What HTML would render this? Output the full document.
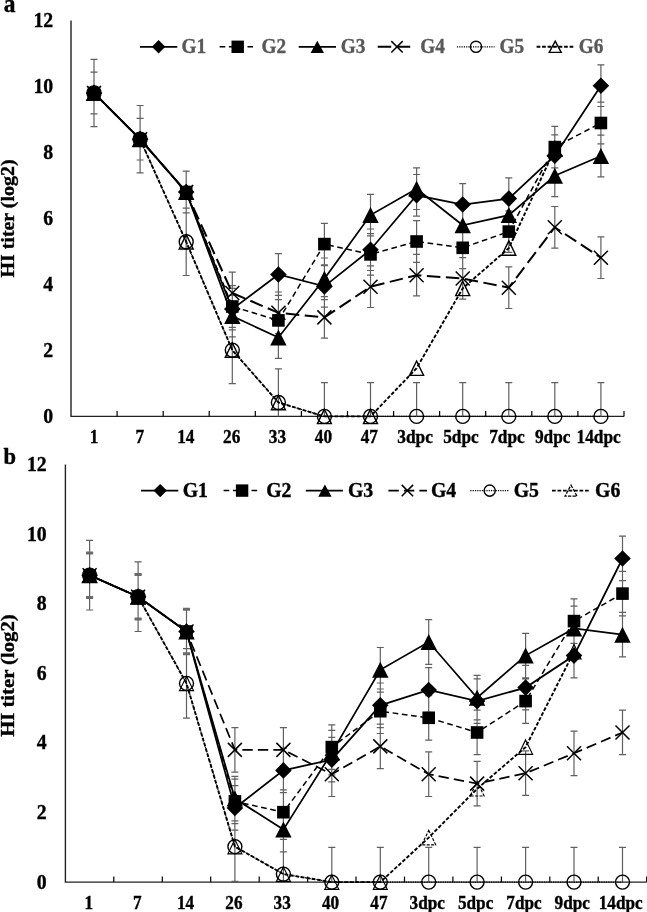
<!DOCTYPE html>
<html><head><meta charset="utf-8"><title>HI titer</title>
<style>
html,body{margin:0;padding:0;background:#fff;}
body{width:647px;height:912px;overflow:hidden;}
svg{display:block;}
svg text{font-family:"Liberation Serif",serif;font-weight:bold;fill:#000;stroke:#000;stroke-width:0.35px;}
</style></head><body>
<svg width="647" height="912" viewBox="0 0 647 912">
<rect width="647" height="912" fill="#fff"/>
<g id="chart-a">
<path d="M71.0 20.4V416.4H624.0" fill="none" stroke="#222" stroke-width="1.4"/>
<path d="M117.1 416.4v-5.5" stroke="#000" stroke-width="1.2"/>
<path d="M163.2 416.4v-5.5" stroke="#000" stroke-width="1.2"/>
<path d="M209.2 416.4v-5.5" stroke="#000" stroke-width="1.2"/>
<path d="M255.3 416.4v-5.5" stroke="#000" stroke-width="1.2"/>
<path d="M301.4 416.4v-5.5" stroke="#000" stroke-width="1.2"/>
<path d="M347.5 416.4v-5.5" stroke="#000" stroke-width="1.2"/>
<path d="M393.6 416.4v-5.5" stroke="#000" stroke-width="1.2"/>
<path d="M439.6 416.4v-5.5" stroke="#000" stroke-width="1.2"/>
<path d="M485.7 416.4v-5.5" stroke="#000" stroke-width="1.2"/>
<path d="M531.8 416.4v-5.5" stroke="#000" stroke-width="1.2"/>
<path d="M577.9 416.4v-5.5" stroke="#000" stroke-width="1.2"/>
<path d="M624.0 416.4v-5.5" stroke="#000" stroke-width="1.2"/>
<text transform="translate(53.2 422.9) scale(1 1.05)" font-size="19.8" text-anchor="end">0</text>
<text transform="translate(53.2 356.9) scale(1 1.05)" font-size="19.8" text-anchor="end">2</text>
<text transform="translate(53.2 290.9) scale(1 1.05)" font-size="19.8" text-anchor="end">4</text>
<text transform="translate(53.2 224.9) scale(1 1.05)" font-size="19.8" text-anchor="end">6</text>
<text transform="translate(53.2 158.9) scale(1 1.05)" font-size="19.8" text-anchor="end">8</text>
<text transform="translate(53.2 92.9) scale(1 1.05)" font-size="19.8" text-anchor="end">10</text>
<text transform="translate(53.2 26.9) scale(1 1.05)" font-size="19.8" text-anchor="end">12</text>
<text transform="translate(94.0 443.1) scale(1 1.05)" font-size="17.3" text-anchor="middle">1</text>
<text transform="translate(139.9 443.1) scale(1 1.05)" font-size="17.3" text-anchor="middle">7</text>
<text transform="translate(185.8 443.1) scale(1 1.05)" font-size="17.3" text-anchor="middle">14</text>
<text transform="translate(231.7 443.1) scale(1 1.05)" font-size="17.3" text-anchor="middle">26</text>
<text transform="translate(277.5 443.1) scale(1 1.05)" font-size="17.3" text-anchor="middle">33</text>
<text transform="translate(323.4 443.1) scale(1 1.05)" font-size="17.3" text-anchor="middle">40</text>
<text transform="translate(369.3 443.1) scale(1 1.05)" font-size="17.3" text-anchor="middle">47</text>
<text transform="translate(415.1 443.1) scale(1 1.05)" font-size="17.3" text-anchor="middle">3dpc</text>
<text transform="translate(461.0 443.1) scale(1 1.05)" font-size="17.3" text-anchor="middle">5dpc</text>
<text transform="translate(506.9 443.1) scale(1 1.05)" font-size="17.3" text-anchor="middle">7dpc</text>
<text transform="translate(552.7 443.1) scale(1 1.05)" font-size="17.3" text-anchor="middle">9dpc</text>
<text transform="translate(598.6 443.1) scale(1 1.05)" font-size="17.3" text-anchor="middle">14dpc</text>
<text transform="translate(13.7 218.5) rotate(-90) scale(1.072 1)" font-size="18.6" text-anchor="middle">HI titer (log2)</text>
<text transform="translate(3.8 11.8) scale(1 1.05)" font-size="23.5">a</text>
<path d="M94.0 59.3V126.7M90.5 59.3h7M90.5 72.2h7M90.5 113.8h7M90.5 126.7h7M140.1 105.5V172.9M136.6 105.5h7M136.6 118.4h7M136.6 160.0h7M136.6 172.9h7M186.2 171.2V275.5M182.7 171.2h7M182.7 208.2h7M182.7 212.8h7M182.7 275.5h7M232.3 272.2V383.7M228.8 272.2h7M228.8 285.7h7M228.8 288.4h7M228.8 295.3h7M228.8 313.8h7M228.8 316.4h7M228.8 327.3h7M228.8 329.9h7M228.8 336.9h7M228.8 383.7h7M278.4 253.7V358.3M278.4 368.9V416.4M274.9 253.7h7M274.9 292.0h7M274.9 295.3h7M274.9 299.6h7M274.9 316.7h7M274.9 333.6h7M274.9 341.2h7M274.9 358.3h7M274.9 368.9h7M324.4 223.3V338.2M324.4 382.7V416.4M320.9 223.3h7M320.9 258.0h7M320.9 264.9h7M320.9 265.6h7M320.9 296.6h7M320.9 299.6h7M320.9 307.2h7M320.9 338.2h7M320.9 382.7h7M370.5 194.3V307.5M370.5 382.7V416.4M367.0 194.3h7M367.0 229.0h7M367.0 233.6h7M367.0 235.9h7M367.0 265.9h7M367.0 270.5h7M367.0 275.2h7M367.0 307.5h7M367.0 382.7h7M416.6 167.9V216.1M416.6 220.7V295.9M416.6 382.7V416.4M413.1 167.9h7M413.1 174.5h7M413.1 209.5h7M413.1 216.1h7M413.1 220.7h7M413.1 254.4h7M413.1 262.3h7M413.1 295.9h7M413.1 382.7h7M462.7 183.7V299.2M462.7 382.7V416.4M459.2 183.7h7M459.2 204.5h7M459.2 225.3h7M459.2 227.0h7M459.2 246.1h7M459.2 257.7h7M459.2 268.6h7M459.2 299.2h7M459.2 382.7h7M508.8 177.8V252.4M508.8 266.9V308.5M508.8 382.7V416.4M505.3 177.8h7M505.3 194.3h7M505.3 210.8h7M505.3 219.4h7M505.3 235.9h7M505.3 252.4h7M505.3 266.9h7M505.3 308.5h7M505.3 382.7h7M554.8 126.3V196.6M554.8 206.5V248.1M554.8 382.7V416.4M551.3 126.3h7M551.3 134.9h7M551.3 155.0h7M551.3 167.9h7M551.3 176.5h7M551.3 196.6h7M551.3 206.5h7M551.3 248.1h7M551.3 382.7h7M600.9 64.9V176.8M600.9 236.9V278.5M600.9 382.7V416.4M597.4 64.9h7M597.4 102.2h7M597.4 106.5h7M597.4 135.2h7M597.4 143.8h7M597.4 176.8h7M597.4 236.9h7M597.4 278.5h7M597.4 382.7h7" stroke="#606060" stroke-width="1.2" fill="none"/>
<polyline points="94.0,93.0 140.1,139.2 186.2,192.0 232.3,309.1 278.4,274.5 324.4,286.4 370.5,249.7 416.6,195.3 462.7,204.5 508.8,198.6 554.8,155.7 600.9,85.7" fill="none" stroke="#000" stroke-width="1.75"/>
<path d="M94.0 84.7L102.3 93.0L94.0 101.3L85.7 93.0Z" fill="#000"/>
<path d="M140.1 130.9L148.4 139.2L140.1 147.5L131.8 139.2Z" fill="#000"/>
<path d="M186.2 183.7L194.5 192.0L186.2 200.3L177.9 192.0Z" fill="#000"/>
<path d="M232.3 300.8L240.6 309.1L232.3 317.4L224.0 309.1Z" fill="#000"/>
<path d="M278.4 266.2L286.7 274.5L278.4 282.8L270.1 274.5Z" fill="#000"/>
<path d="M324.4 278.1L332.7 286.4L324.4 294.7L316.1 286.4Z" fill="#000"/>
<path d="M370.5 241.4L378.8 249.7L370.5 258.0L362.2 249.7Z" fill="#000"/>
<path d="M416.6 187.0L424.9 195.3L416.6 203.6L408.3 195.3Z" fill="#000"/>
<path d="M462.7 196.2L471.0 204.5L462.7 212.8L454.4 204.5Z" fill="#000"/>
<path d="M508.8 190.3L517.1 198.6L508.8 206.9L500.5 198.6Z" fill="#000"/>
<path d="M554.8 147.4L563.1 155.7L554.8 164.0L546.5 155.7Z" fill="#000"/>
<path d="M600.9 77.4L609.2 85.7L600.9 94.0L592.6 85.7Z" fill="#000"/>
<polyline points="94.0,93.0 140.1,139.2 186.2,192.0 232.3,306.5 278.4,320.4 324.4,244.1 370.5,254.4 416.6,241.5 462.7,247.8 508.8,231.6 554.8,147.1 600.9,123.0" fill="none" stroke="#000" stroke-width="1.5" stroke-dasharray="5.7 3.6"/>
<rect x="87.7" y="86.7" width="12.6" height="12.6" fill="#000"/>
<rect x="133.8" y="132.9" width="12.6" height="12.6" fill="#000"/>
<rect x="179.9" y="185.7" width="12.6" height="12.6" fill="#000"/>
<rect x="226.0" y="300.2" width="12.6" height="12.6" fill="#000"/>
<rect x="272.1" y="314.1" width="12.6" height="12.6" fill="#000"/>
<rect x="318.1" y="237.8" width="12.6" height="12.6" fill="#000"/>
<rect x="364.2" y="248.1" width="12.6" height="12.6" fill="#000"/>
<rect x="410.3" y="235.2" width="12.6" height="12.6" fill="#000"/>
<rect x="456.4" y="241.5" width="12.6" height="12.6" fill="#000"/>
<rect x="502.5" y="225.3" width="12.6" height="12.6" fill="#000"/>
<rect x="548.5" y="140.8" width="12.6" height="12.6" fill="#000"/>
<rect x="594.6" y="116.7" width="12.6" height="12.6" fill="#000"/>
<polyline points="94.0,93.0 140.1,139.2 186.2,192.0 232.3,316.1 278.4,337.5 324.4,278.8 370.5,215.1 416.6,188.7 462.7,225.3 508.8,215.1 554.8,175.8 600.9,156.0" fill="none" stroke="#000" stroke-width="1.75"/>
<path d="M94.0 85.0L102.2 101.0L85.8 101.0Z" fill="#000"/>
<path d="M140.1 131.2L148.3 147.2L131.9 147.2Z" fill="#000"/>
<path d="M186.2 184.0L194.4 200.0L178.0 200.0Z" fill="#000"/>
<path d="M232.3 308.1L240.5 324.1L224.1 324.1Z" fill="#000"/>
<path d="M278.4 329.5L286.6 345.5L270.2 345.5Z" fill="#000"/>
<path d="M324.4 270.8L332.6 286.8L316.2 286.8Z" fill="#000"/>
<path d="M370.5 207.1L378.7 223.1L362.3 223.1Z" fill="#000"/>
<path d="M416.6 180.7L424.8 196.7L408.4 196.7Z" fill="#000"/>
<path d="M462.7 217.3L470.9 233.3L454.5 233.3Z" fill="#000"/>
<path d="M508.8 207.1L517.0 223.1L500.6 223.1Z" fill="#000"/>
<path d="M554.8 167.8L563.0 183.8L546.6 183.8Z" fill="#000"/>
<path d="M600.9 148.0L609.1 164.0L592.7 164.0Z" fill="#000"/>
<polyline points="94.0,93.0 140.1,139.2 186.2,192.0 232.3,293.0 278.4,312.8 324.4,317.4 370.5,286.7 416.6,275.2 462.7,278.5 508.8,287.7 554.8,227.3 600.9,257.7" fill="none" stroke="#000" stroke-width="2.0" stroke-dasharray="13.5 5.5"/>
<path d="M87.0 86.0L101.0 100.0M87.0 100.0L101.0 86.0" stroke="#000" stroke-width="1.5" fill="none"/>
<path d="M133.1 132.2L147.1 146.2M133.1 146.2L147.1 132.2" stroke="#000" stroke-width="1.5" fill="none"/>
<path d="M179.2 185.0L193.2 199.0M179.2 199.0L193.2 185.0" stroke="#000" stroke-width="1.5" fill="none"/>
<path d="M225.3 286.0L239.3 300.0M225.3 300.0L239.3 286.0" stroke="#000" stroke-width="1.5" fill="none"/>
<path d="M271.4 305.8L285.4 319.8M271.4 319.8L285.4 305.8" stroke="#000" stroke-width="1.5" fill="none"/>
<path d="M317.4 310.4L331.4 324.4M317.4 324.4L331.4 310.4" stroke="#000" stroke-width="1.5" fill="none"/>
<path d="M363.5 279.7L377.5 293.7M363.5 293.7L377.5 279.7" stroke="#000" stroke-width="1.5" fill="none"/>
<path d="M409.6 268.2L423.6 282.2M409.6 282.2L423.6 268.2" stroke="#000" stroke-width="1.5" fill="none"/>
<path d="M455.7 271.5L469.7 285.5M455.7 285.5L469.7 271.5" stroke="#000" stroke-width="1.5" fill="none"/>
<path d="M501.8 280.7L515.8 294.7M501.8 294.7L515.8 280.7" stroke="#000" stroke-width="1.5" fill="none"/>
<path d="M547.8 220.3L561.8 234.3M547.8 234.3L561.8 220.3" stroke="#000" stroke-width="1.5" fill="none"/>
<path d="M593.9 250.7L607.9 264.7M593.9 264.7L607.9 250.7" stroke="#000" stroke-width="1.5" fill="none"/>
<polyline points="94.0,93.0 140.1,139.2 186.2,241.8 232.3,350.1 278.4,402.5 324.4,416.4 370.5,416.4 416.6,416.4 462.7,416.4 508.8,416.4 554.8,416.4 600.9,416.4" fill="none" stroke="#000" stroke-width="1.15" stroke-dasharray="1.2 1.1"/>
<circle cx="94.0" cy="93.0" r="7.0" fill="none" stroke="#000" stroke-width="1.4"/>
<circle cx="140.1" cy="139.2" r="7.0" fill="none" stroke="#000" stroke-width="1.4"/>
<circle cx="186.2" cy="241.8" r="7.0" fill="none" stroke="#000" stroke-width="1.4"/>
<circle cx="232.3" cy="350.1" r="7.0" fill="none" stroke="#000" stroke-width="1.4"/>
<circle cx="278.4" cy="402.5" r="7.0" fill="none" stroke="#000" stroke-width="1.4"/>
<circle cx="324.4" cy="416.4" r="7.0" fill="none" stroke="#000" stroke-width="1.4"/>
<circle cx="370.5" cy="416.4" r="7.0" fill="none" stroke="#000" stroke-width="1.4"/>
<circle cx="416.6" cy="416.4" r="7.0" fill="none" stroke="#000" stroke-width="1.4"/>
<circle cx="462.7" cy="416.4" r="7.0" fill="none" stroke="#000" stroke-width="1.4"/>
<circle cx="508.8" cy="416.4" r="7.0" fill="none" stroke="#000" stroke-width="1.4"/>
<circle cx="554.8" cy="416.4" r="7.0" fill="none" stroke="#000" stroke-width="1.4"/>
<circle cx="600.9" cy="416.4" r="7.0" fill="none" stroke="#000" stroke-width="1.4"/>
<polyline points="94.0,93.0 140.1,139.2 186.2,241.8 232.3,350.1 278.4,402.5 324.4,416.4 370.5,416.4 416.6,368.2 462.7,288.4 508.8,248.1 554.8,149.1" fill="none" stroke="#000" stroke-width="1.9" stroke-dasharray="3.7 1.8"/>
<path d="M94.0 85.8L101.0 100.2L87.0 100.2Z" fill="none" stroke="#000" stroke-width="1.4"/>
<path d="M140.1 132.0L147.1 146.4L133.1 146.4Z" fill="none" stroke="#000" stroke-width="1.4"/>
<path d="M186.2 234.6L193.2 249.0L179.2 249.0Z" fill="none" stroke="#000" stroke-width="1.4"/>
<path d="M232.3 342.9L239.3 357.3L225.3 357.3Z" fill="none" stroke="#000" stroke-width="1.4"/>
<path d="M278.4 395.3L285.4 409.7L271.4 409.7Z" fill="none" stroke="#000" stroke-width="1.4"/>
<path d="M324.4 409.2L331.4 423.6L317.4 423.6Z" fill="none" stroke="#000" stroke-width="1.4"/>
<path d="M370.5 409.2L377.5 423.6L363.5 423.6Z" fill="none" stroke="#000" stroke-width="1.4"/>
<path d="M416.6 361.0L423.6 375.4L409.6 375.4Z" fill="none" stroke="#000" stroke-width="1.4"/>
<path d="M462.7 281.2L469.7 295.6L455.7 295.6Z" fill="none" stroke="#000" stroke-width="1.4"/>
<path d="M508.8 240.9L515.8 255.3L501.8 255.3Z" fill="none" stroke="#000" stroke-width="1.4"/>
<path d="M554.8 141.9L561.8 156.3L547.8 156.3Z" fill="none" stroke="#000" stroke-width="1.4"/>
<path d="M139.9 46.8H177.3" stroke="#000" stroke-width="1.75"/>
<path d="M158.6 40.1L165.3 46.8L158.6 53.5L151.9 46.8Z" fill="#000"/>
<text transform="translate(181.5 53.4) scale(1 1.05)" font-size="19.3" style="fill:#595959;stroke:#595959">G1</text>
<path d="M219.6 46.8H253" stroke="#000" stroke-width="1.5" stroke-dasharray="5.7 3.6"/>
<rect x="231.5" y="40.6" width="12.4" height="12.4" fill="#000"/>
<text transform="translate(261.4 53.4) scale(1 1.05)" font-size="19.3" style="fill:#595959;stroke:#595959">G2</text>
<path d="M298.7 46.8H336" stroke="#000" stroke-width="1.75"/>
<path d="M317.3 40.7L324.0 52.9L310.6 52.9Z" fill="#000"/>
<text transform="translate(340.7 53.4) scale(1 1.05)" font-size="19.3" style="fill:#595959;stroke:#595959">G3</text>
<path d="M377.7 46.8H415.5" stroke="#000" stroke-width="2.0" stroke-dasharray="13.5 5.5"/>
<path d="M391.3 41.1L402.7 52.5M391.3 52.5L402.7 41.1" stroke="#000" stroke-width="1.5" fill="none"/>
<text transform="translate(420.2 53.4) scale(1 1.05)" font-size="19.3" style="fill:#595959;stroke:#595959">G4</text>
<path d="M456.9 46.8H494.6" stroke="#000" stroke-width="1.15" stroke-dasharray="1.2 1.1"/>
<circle cx="476.0" cy="46.8" r="5.6" fill="none" stroke="#000" stroke-width="1.4"/>
<text transform="translate(499.5 53.4) scale(1 1.05)" font-size="19.3" style="fill:#595959;stroke:#595959">G5</text>
<path d="M536.6 46.8H573.8" stroke="#000" stroke-width="1.9" stroke-dasharray="3.7 1.8"/>
<path d="M555.2 41.2L561.2 52.4L549.2 52.4Z" fill="none" stroke="#000" stroke-width="1.4"/>
<text transform="translate(578.7 53.4) scale(1 1.05)" font-size="19.3" style="fill:#595959;stroke:#595959">G6</text>
</g>
<g id="chart-b">
<path d="M65.4 464.5V882.1H646.7" fill="none" stroke="#222" stroke-width="1.4"/>
<path d="M113.8 882.1v-5.5" stroke="#000" stroke-width="1.2"/>
<path d="M162.3 882.1v-5.5" stroke="#000" stroke-width="1.2"/>
<path d="M210.7 882.1v-5.5" stroke="#000" stroke-width="1.2"/>
<path d="M259.2 882.1v-5.5" stroke="#000" stroke-width="1.2"/>
<path d="M307.6 882.1v-5.5" stroke="#000" stroke-width="1.2"/>
<path d="M356.0 882.1v-5.5" stroke="#000" stroke-width="1.2"/>
<path d="M404.5 882.1v-5.5" stroke="#000" stroke-width="1.2"/>
<path d="M452.9 882.1v-5.5" stroke="#000" stroke-width="1.2"/>
<path d="M501.4 882.1v-5.5" stroke="#000" stroke-width="1.2"/>
<path d="M549.8 882.1v-5.5" stroke="#000" stroke-width="1.2"/>
<path d="M598.2 882.1v-5.5" stroke="#000" stroke-width="1.2"/>
<path d="M646.7 882.1v-5.5" stroke="#000" stroke-width="1.2"/>
<text transform="translate(46.7 888.6) scale(1 1.05)" font-size="19.8" text-anchor="end">0</text>
<text transform="translate(46.7 819.0) scale(1 1.05)" font-size="19.8" text-anchor="end">2</text>
<text transform="translate(46.7 749.4) scale(1 1.05)" font-size="19.8" text-anchor="end">4</text>
<text transform="translate(46.7 679.8) scale(1 1.05)" font-size="19.8" text-anchor="end">6</text>
<text transform="translate(46.7 610.2) scale(1 1.05)" font-size="19.8" text-anchor="end">8</text>
<text transform="translate(46.7 540.6) scale(1 1.05)" font-size="19.8" text-anchor="end">10</text>
<text transform="translate(46.7 471.0) scale(1 1.05)" font-size="19.8" text-anchor="end">12</text>
<text transform="translate(88.8 908.8) scale(1 1.05)" font-size="17.2" text-anchor="middle">1</text>
<text transform="translate(137.2 908.8) scale(1 1.05)" font-size="17.2" text-anchor="middle">7</text>
<text transform="translate(185.5 908.8) scale(1 1.05)" font-size="17.2" text-anchor="middle">14</text>
<text transform="translate(233.9 908.8) scale(1 1.05)" font-size="17.2" text-anchor="middle">26</text>
<text transform="translate(282.2 908.8) scale(1 1.05)" font-size="17.2" text-anchor="middle">33</text>
<text transform="translate(330.6 908.8) scale(1 1.05)" font-size="17.2" text-anchor="middle">40</text>
<text transform="translate(378.9 908.8) scale(1 1.05)" font-size="17.2" text-anchor="middle">47</text>
<text transform="translate(427.3 908.8) scale(1 1.05)" font-size="17.2" text-anchor="middle">3dpc</text>
<text transform="translate(475.6 908.8) scale(1 1.05)" font-size="17.2" text-anchor="middle">5dpc</text>
<text transform="translate(524.0 908.8) scale(1 1.05)" font-size="17.2" text-anchor="middle">7dpc</text>
<text transform="translate(572.3 908.8) scale(1 1.05)" font-size="17.2" text-anchor="middle">9dpc</text>
<text transform="translate(620.7 908.8) scale(1 1.05)" font-size="17.2" text-anchor="middle">14dpc</text>
<text transform="translate(13.7 675.6) rotate(-90) scale(1.113 1)" font-size="18.6" text-anchor="middle">HI titer (log2)</text>
<text transform="translate(3.4 463.9) scale(1 1.05)" font-size="22.6">b</text>
<path d="M89.6 540.4V610.0M86.1 540.4h7M86.1 552.9h7M86.1 597.4h7M86.1 610.0h7M138.1 561.9V631.5M134.6 561.9h7M134.6 574.5h7M134.6 619.0h7M134.6 631.5h7M186.5 609.3V718.2M183.0 609.3h7M183.0 648.6h7M183.0 653.8h7M183.0 718.2h7M234.9 727.6V772.1M234.9 776.3V881.4M231.4 727.6h7M231.4 772.1h7M231.4 776.3h7M231.4 779.1h7M231.4 785.7h7M231.4 811.8h7M231.4 820.9h7M231.4 823.6h7M231.4 830.2h7M231.4 881.4h7M283.4 727.6V882.1M279.9 727.6h7M279.9 748.1h7M279.9 772.1h7M279.9 789.9h7M279.9 792.7h7M279.9 807.3h7M279.9 834.4h7M279.9 839.3h7M279.9 851.8h7M331.8 724.8V796.5M331.8 847.3V882.1M328.3 724.8h7M328.3 730.4h7M328.3 737.3h7M328.3 751.9h7M328.3 769.3h7M328.3 774.9h7M328.3 781.9h7M328.3 796.5h7M328.3 847.3h7M380.3 647.5V768.7M380.3 847.3V882.1M376.8 647.5h7M376.8 683.0h7M376.8 689.0h7M376.8 692.1h7M376.8 724.1h7M376.8 727.6h7M376.8 733.5h7M376.8 768.7h7M376.8 847.3h7M428.7 619.7V664.3M428.7 667.7V740.1M428.7 751.9V796.5M428.7 847.3V882.1M425.2 619.7h7M425.2 664.3h7M425.2 667.7h7M425.2 695.6h7M425.2 712.3h7M425.2 740.1h7M425.2 751.9h7M425.2 796.5h7M425.2 847.3h7M477.1 675.4V754.7M477.1 761.3V805.9M477.1 847.3V882.1M473.6 675.4h7M473.6 678.9h7M473.6 710.2h7M473.6 719.9h7M473.6 723.4h7M473.6 754.7h7M473.6 761.3h7M473.6 805.9h7M473.6 847.3h7M525.6 633.3V723.4M525.6 750.9V795.4M525.6 847.3V882.1M522.1 633.3h7M522.1 665.3h7M522.1 677.8h7M522.1 678.9h7M522.1 709.8h7M522.1 723.4h7M522.1 750.9h7M522.1 795.4h7M522.1 847.3h7M574.0 598.8V677.8M574.0 731.1V775.6M574.0 847.3V882.1M570.5 598.8h7M570.5 606.1h7M570.5 633.3h7M570.5 643.4h7M570.5 650.7h7M570.5 677.8h7M570.5 731.1h7M570.5 775.6h7M570.5 847.3h7M622.5 536.2V656.9M622.5 710.2V754.7M622.5 847.3V882.1M619.0 536.2h7M619.0 571.3h7M619.0 580.7h7M619.0 612.4h7M619.0 615.9h7M619.0 656.9h7M619.0 710.2h7M619.0 754.7h7M619.0 847.3h7" stroke="#606060" stroke-width="1.2" fill="none"/>
<path d="M86.1 552.9h7M86.1 597.4h7M134.6 574.5h7M134.6 619.0h7M183.0 609.3h7M183.0 653.8h7" stroke="#6a6a6a" stroke-width="3" fill="none"/>
<polyline points="89.6,575.2 138.1,596.7 186.5,631.5 234.9,808.0 283.4,770.4 331.8,759.6 380.3,705.3 428.7,690.0 477.1,701.1 525.6,687.6 574.0,655.6 622.5,558.5" fill="none" stroke="#000" stroke-width="1.75"/>
<path d="M89.6 566.9L97.9 575.2L89.6 583.5L81.3 575.2Z" fill="#000"/>
<path d="M138.1 588.4L146.4 596.7L138.1 605.0L129.8 596.7Z" fill="#000"/>
<path d="M186.5 623.2L194.8 631.5L186.5 639.8L178.2 631.5Z" fill="#000"/>
<path d="M234.9 799.7L243.2 808.0L234.9 816.3L226.6 808.0Z" fill="#000"/>
<path d="M283.4 762.1L291.7 770.4L283.4 778.7L275.1 770.4Z" fill="#000"/>
<path d="M331.8 751.3L340.1 759.6L331.8 767.9L323.5 759.6Z" fill="#000"/>
<path d="M380.3 697.0L388.6 705.3L380.3 713.6L372.0 705.3Z" fill="#000"/>
<path d="M428.7 681.7L437.0 690.0L428.7 698.3L420.4 690.0Z" fill="#000"/>
<path d="M477.1 692.8L485.4 701.1L477.1 709.4L468.8 701.1Z" fill="#000"/>
<path d="M525.6 679.3L533.9 687.6L525.6 695.9L517.3 687.6Z" fill="#000"/>
<path d="M574.0 647.3L582.3 655.6L574.0 663.9L565.7 655.6Z" fill="#000"/>
<path d="M622.5 550.2L630.8 558.5L622.5 566.8L614.2 558.5Z" fill="#000"/>
<polyline points="89.6,575.2 138.1,596.7 186.5,631.5 234.9,801.4 283.4,812.2 331.8,747.1 380.3,711.2 428.7,717.8 477.1,732.5 525.6,701.1 574.0,621.1 622.5,593.6" fill="none" stroke="#000" stroke-width="1.5" stroke-dasharray="5.7 3.6"/>
<rect x="83.3" y="568.9" width="12.6" height="12.6" fill="#000"/>
<rect x="131.8" y="590.4" width="12.6" height="12.6" fill="#000"/>
<rect x="180.2" y="625.2" width="12.6" height="12.6" fill="#000"/>
<rect x="228.6" y="795.1" width="12.6" height="12.6" fill="#000"/>
<rect x="277.1" y="805.9" width="12.6" height="12.6" fill="#000"/>
<rect x="325.5" y="740.8" width="12.6" height="12.6" fill="#000"/>
<rect x="374.0" y="704.9" width="12.6" height="12.6" fill="#000"/>
<rect x="422.4" y="711.5" width="12.6" height="12.6" fill="#000"/>
<rect x="470.8" y="726.2" width="12.6" height="12.6" fill="#000"/>
<rect x="519.3" y="694.8" width="12.6" height="12.6" fill="#000"/>
<rect x="567.7" y="614.8" width="12.6" height="12.6" fill="#000"/>
<rect x="616.2" y="587.3" width="12.6" height="12.6" fill="#000"/>
<polyline points="89.6,575.2 138.1,596.7 186.5,631.5 234.9,798.6 283.4,829.6 331.8,752.6 380.3,669.8 428.7,642.0 477.1,697.7 525.6,655.6 574.0,628.4 622.5,634.7" fill="none" stroke="#000" stroke-width="1.75"/>
<path d="M89.6 567.2L97.8 583.2L81.4 583.2Z" fill="#000"/>
<path d="M138.1 588.7L146.3 604.7L129.9 604.7Z" fill="#000"/>
<path d="M186.5 623.5L194.7 639.5L178.3 639.5Z" fill="#000"/>
<path d="M234.9 790.6L243.1 806.6L226.7 806.6Z" fill="#000"/>
<path d="M283.4 821.6L291.6 837.6L275.2 837.6Z" fill="#000"/>
<path d="M331.8 744.6L340.0 760.6L323.6 760.6Z" fill="#000"/>
<path d="M380.3 661.8L388.5 677.8L372.1 677.8Z" fill="#000"/>
<path d="M428.7 634.0L436.9 650.0L420.5 650.0Z" fill="#000"/>
<path d="M477.1 689.7L485.3 705.7L468.9 705.7Z" fill="#000"/>
<path d="M525.6 647.6L533.8 663.6L517.4 663.6Z" fill="#000"/>
<path d="M574.0 620.4L582.2 636.4L565.8 636.4Z" fill="#000"/>
<path d="M622.5 626.7L630.7 642.7L614.3 642.7Z" fill="#000"/>
<polyline points="89.6,575.2 138.1,596.7 186.5,631.5 234.9,749.9 283.4,749.9 331.8,774.2 380.3,746.4 428.7,774.2 477.1,783.6 525.6,773.2 574.0,753.3 622.5,732.5" fill="none" stroke="#000" stroke-width="1.7" stroke-dasharray="10.4 5.1"/>
<path d="M82.6 568.2L96.6 582.2M82.6 582.2L96.6 568.2" stroke="#000" stroke-width="1.5" fill="none"/>
<path d="M131.1 589.7L145.1 603.7M131.1 603.7L145.1 589.7" stroke="#000" stroke-width="1.5" fill="none"/>
<path d="M179.5 624.5L193.5 638.5M179.5 638.5L193.5 624.5" stroke="#000" stroke-width="1.5" fill="none"/>
<path d="M227.9 742.9L241.9 756.9M227.9 756.9L241.9 742.9" stroke="#000" stroke-width="1.5" fill="none"/>
<path d="M276.4 742.9L290.4 756.9M276.4 756.9L290.4 742.9" stroke="#000" stroke-width="1.5" fill="none"/>
<path d="M324.8 767.2L338.8 781.2M324.8 781.2L338.8 767.2" stroke="#000" stroke-width="1.5" fill="none"/>
<path d="M373.3 739.4L387.3 753.4M373.3 753.4L387.3 739.4" stroke="#000" stroke-width="1.5" fill="none"/>
<path d="M421.7 767.2L435.7 781.2M421.7 781.2L435.7 767.2" stroke="#000" stroke-width="1.5" fill="none"/>
<path d="M470.1 776.6L484.1 790.6M470.1 790.6L484.1 776.6" stroke="#000" stroke-width="1.5" fill="none"/>
<path d="M518.6 766.2L532.6 780.2M518.6 780.2L532.6 766.2" stroke="#000" stroke-width="1.5" fill="none"/>
<path d="M567.0 746.3L581.0 760.3M567.0 760.3L581.0 746.3" stroke="#000" stroke-width="1.5" fill="none"/>
<path d="M615.5 725.5L629.5 739.5M615.5 739.5L629.5 725.5" stroke="#000" stroke-width="1.5" fill="none"/>
<polyline points="89.6,575.2 138.1,596.7 186.5,683.4 234.9,846.6 283.4,874.1 331.8,882.1 380.3,882.1 428.7,882.1 477.1,882.1 525.6,882.1 574.0,882.1 622.5,882.1" fill="none" stroke="#000" stroke-width="1.15" stroke-dasharray="1.2 1.1"/>
<circle cx="89.6" cy="575.2" r="7.0" fill="none" stroke="#000" stroke-width="1.4"/>
<circle cx="138.1" cy="596.7" r="7.0" fill="none" stroke="#000" stroke-width="1.4"/>
<circle cx="186.5" cy="683.4" r="7.0" fill="none" stroke="#000" stroke-width="1.4"/>
<circle cx="234.9" cy="846.6" r="7.0" fill="none" stroke="#000" stroke-width="1.4"/>
<circle cx="283.4" cy="874.1" r="7.0" fill="none" stroke="#000" stroke-width="1.4"/>
<circle cx="331.8" cy="882.1" r="7.0" fill="none" stroke="#000" stroke-width="1.4"/>
<circle cx="380.3" cy="882.1" r="7.0" fill="none" stroke="#000" stroke-width="1.4"/>
<circle cx="428.7" cy="882.1" r="7.0" fill="none" stroke="#000" stroke-width="1.4"/>
<circle cx="477.1" cy="882.1" r="7.0" fill="none" stroke="#000" stroke-width="1.4"/>
<circle cx="525.6" cy="882.1" r="7.0" fill="none" stroke="#000" stroke-width="1.4"/>
<circle cx="574.0" cy="882.1" r="7.0" fill="none" stroke="#000" stroke-width="1.4"/>
<circle cx="622.5" cy="882.1" r="7.0" fill="none" stroke="#000" stroke-width="1.4"/>
<polyline points="89.6,575.2 138.1,596.7 186.5,683.4 234.9,846.6 283.4,874.1 331.8,882.1 380.3,882.1 428.7,837.6 477.1,788.8 525.6,747.1 574.0,651.7" fill="none" stroke="#000" stroke-width="1.9" stroke-dasharray="3.7 1.8"/>
<path d="M89.6 568.0L96.6 582.4L82.6 582.4Z" fill="none" stroke="#000" stroke-width="1.15"/>
<path d="M138.1 589.5L145.1 603.9L131.1 603.9Z" fill="none" stroke="#000" stroke-width="1.15"/>
<path d="M186.5 676.2L193.5 690.6L179.5 690.6Z" fill="none" stroke="#000" stroke-width="1.15"/>
<path d="M234.9 839.4L241.9 853.8L227.9 853.8Z" fill="none" stroke="#000" stroke-width="1.15"/>
<path d="M283.4 866.9L290.4 881.3L276.4 881.3Z" fill="none" stroke="#000" stroke-width="1.15"/>
<path d="M331.8 874.9L338.8 889.3L324.8 889.3Z" fill="none" stroke="#000" stroke-width="1.15"/>
<path d="M380.3 874.9L387.3 889.3L373.3 889.3Z" fill="none" stroke="#000" stroke-width="1.15"/>
<path d="M428.7 830.4L435.7 844.8L421.7 844.8Z" fill="none" stroke="#000" stroke-width="1.15" stroke-dasharray="3 1.4"/>
<path d="M477.1 781.6L484.1 796.0L470.1 796.0Z" fill="none" stroke="#000" stroke-width="1.15" stroke-dasharray="3 1.4"/>
<path d="M525.6 739.9L532.6 754.3L518.6 754.3Z" fill="none" stroke="#000" stroke-width="1.15"/>
<path d="M574.0 644.5L581.0 658.9L567.0 658.9Z" fill="none" stroke="#000" stroke-width="1.15"/>
<path d="M141.1 490.6H178.3" stroke="#000" stroke-width="1.75"/>
<path d="M160.2 483.9L166.9 490.6L160.2 497.3L153.5 490.6Z" fill="#000"/>
<text transform="translate(182.7 497.2) scale(1 1.05)" font-size="19.8" style="fill:#000;stroke:#000">G1</text>
<path d="M223.6 490.6H258.2" stroke="#000" stroke-width="1.5" stroke-dasharray="5.7 3.6"/>
<rect x="235.9" y="484.4" width="12.4" height="12.4" fill="#000"/>
<text transform="translate(266.2 497.2) scale(1 1.05)" font-size="19.8" style="fill:#000;stroke:#000">G2</text>
<path d="M305.8 490.6H342.9" stroke="#000" stroke-width="1.75"/>
<path d="M324.9 484.5L331.6 496.7L318.2 496.7Z" fill="#000"/>
<text transform="translate(347.9 497.2) scale(1 1.05)" font-size="19.8" style="fill:#000;stroke:#000">G3</text>
<path d="M388.4 490.6H427" stroke="#000" stroke-width="1.7" stroke-dasharray="10.4 5.1"/>
<path d="M401.7 484.9L413.1 496.3M401.7 496.3L413.1 484.9" stroke="#000" stroke-width="1.5" fill="none"/>
<text transform="translate(430.9 497.2) scale(1 1.05)" font-size="19.8" style="fill:#000;stroke:#000">G4</text>
<path d="M470.3 490.6H508.7" stroke="#000" stroke-width="1.15" stroke-dasharray="1.2 1.1"/>
<circle cx="489.7" cy="490.6" r="5.6" fill="none" stroke="#000" stroke-width="1.4"/>
<text transform="translate(513.7 497.2) scale(1 1.05)" font-size="19.8" style="fill:#000;stroke:#000">G5</text>
<path d="M552 490.6H590" stroke="#000" stroke-width="1.9" stroke-dasharray="3.7 1.8"/>
<path d="M571.0 485.0L577.0 496.2L565.0 496.2Z" fill="none" stroke="#000" stroke-width="1.2" stroke-dasharray="3.4 1.2"/>
<text transform="translate(595.0 497.2) scale(1 1.05)" font-size="19.8" style="fill:#000;stroke:#000">G6</text>
</g>
</svg>
</body></html>
